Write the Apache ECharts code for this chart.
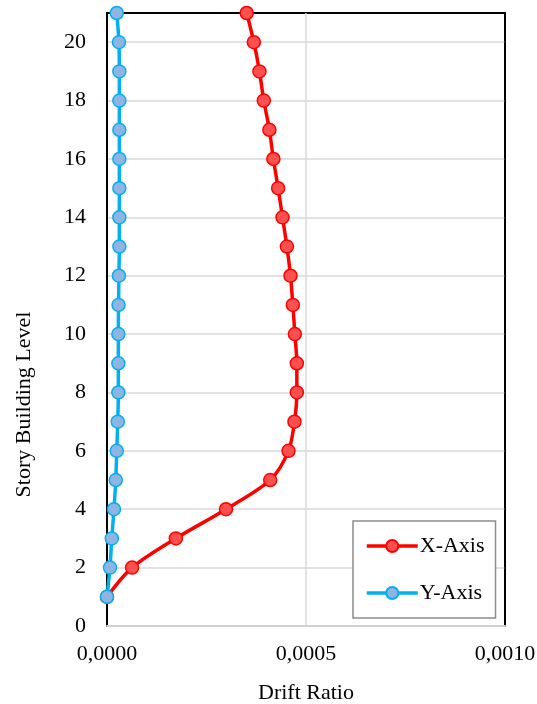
<!DOCTYPE html>
<html>
<head>
<meta charset="utf-8">
<script src="https://cdn.jsdelivr.net/npm/echarts@6/dist/echarts.min.js"></script>
<style>
html,body{margin:0;padding:0;background:#fff;}
#chart{width:537px;height:704px;}
</style>
</head>
<body>
<div id="chart"></div>
<script>
// Story levels
var levels = [1,2,3,4,5,6,7,8,9,10,11,12,13,14,15,16,17,18,19,20,21];
// Drift ratio, X-Axis direction
var xAxisDrift = [0.0, 0.000063, 0.000173, 0.000299, 0.000410, 0.000456, 0.000471, 0.000477, 0.000477, 0.000472, 0.000467, 0.000461, 0.000452, 0.000441, 0.000430, 0.000418, 0.000408, 0.000394, 0.000383, 0.000369, 0.000351];
// Drift ratio, Y-Axis direction
var yAxisDrift = [0.0, 0.0000075, 0.000012, 0.0000175, 0.000022, 0.0000245, 0.000027, 0.0000285, 0.0000285, 0.0000285, 0.000029, 0.000030, 0.000031, 0.000031, 0.000031, 0.000031, 0.000031, 0.000031, 0.000031, 0.000030, 0.0000245];
var seriesNames = ['X-Axis', 'Y-Axis'];
var xTicks = { min: 0, max: 0.001, interval: 0.0005 };
var yTicks = { min: 0, max: 21, interval: 2 };

function pairs(vals) {
  return vals.map(function (v, i) { return [v, levels[i]]; });
}

var FONT = 'Liberation Serif';
var GRID = '#D9D9D9';
// split line colours; the last line (at the max) is the black frame edge
var xSplitColors = [GRID, GRID, '#000'];
var ySplitColors = [];
for (var k = 0; k < 11; k++) ySplitColors.push(GRID);
ySplitColors.push('#000');

var chart = echarts.init(document.getElementById('chart'), null, { renderer: 'canvas' });
chart.setOption({
  animation: false,
  backgroundColor: '#fff',
  textStyle: { fontFamily: FONT, color: '#000' },
  grid: {
    left: 107, right: 32, top: 13, bottom: 78,
    containLabel: false, outerBoundsMode: 'none',
    show: true, borderColor: '#000', borderWidth: 2, backgroundColor: 'transparent'
  },
  xAxis: {
    type: 'value',
    min: xTicks.min, max: xTicks.max, interval: xTicks.interval,
    name: 'Drift Ratio', nameLocation: 'middle', nameGap: 56,
    nameTextStyle: { fontFamily: FONT, fontSize: 22, color: '#000' },
    axisLine: { show: true, lineStyle: { color: '#D0D0D0', width: 2 } },
    axisTick: { show: false },
    axisLabel: {
      fontFamily: FONT, fontSize: 22, color: '#000', margin: 17,
      formatter: function (v) { return v.toFixed(4).replace('.', ','); }
    },
    splitLine: { show: true, lineStyle: { color: xSplitColors, width: 1.5 } }
  },
  yAxis: {
    type: 'value',
    min: yTicks.min, max: yTicks.max, interval: yTicks.interval,
    name: 'Story Building Level', nameLocation: 'middle', nameGap: 72,
    nameTextStyle: { fontFamily: FONT, fontSize: 22, color: '#000', padding: [0, 170, 0, 0] },
    axisLine: { show: true, lineStyle: { color: '#000', width: 2 } },
    axisTick: { show: false },
    axisLabel: { fontFamily: FONT, fontSize: 22, color: '#000', margin: 21, showMaxLabel: false },
    splitLine: { show: true, lineStyle: { color: ySplitColors, width: 1.5 } }
  },
  legend: {
    orient: 'vertical',
    left: 353, top: 521,
    padding: [14, 11, 14, 12],
    itemWidth: 51, itemHeight: 15, itemGap: 25,
    backgroundColor: '#fff',
    borderColor: '#8C8C8C', borderWidth: 1.5,
    lineStyle: { width: 3.5 },
    textStyle: { fontFamily: FONT, fontSize: 22, color: '#000', padding: [0, 0, 0, -3] },
    data: seriesNames
  },
  series: [
    {
      name: seriesNames[0], type: 'line', data: pairs(xAxisDrift),
      smooth: 0.3, symbol: 'circle', symbolSize: 13,
      lineStyle: { color: '#FF0000', width: 3.5 },
      itemStyle: { color: '#FF5050', borderColor: '#FF0000', borderWidth: 1.5 },
      z: 3
    },
    {
      name: seriesNames[1], type: 'line', data: pairs(yAxisDrift),
      smooth: 0.3, symbol: 'circle', symbolSize: 13,
      lineStyle: { color: '#00B0F0', width: 3.5 },
      itemStyle: { color: '#8EB4E3', borderColor: '#00B0F0', borderWidth: 1.5 },
      z: 4
    }
  ]
});
</script>
</body>
</html>
